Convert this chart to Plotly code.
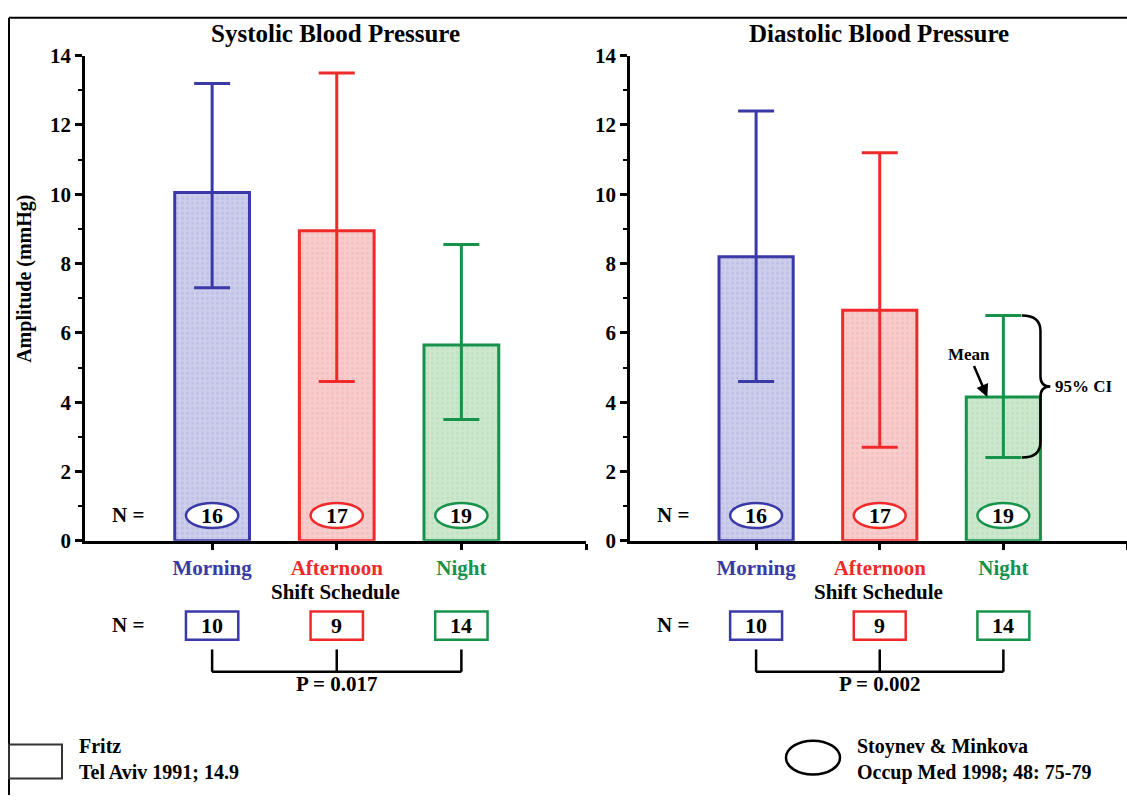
import plotly.graph_objects as go

W, H = 1127, 807

categories = ["Morning", "Afternoon", "Night"]
cat_x = [1, 2, 3]
line_colors = ["#3a3aa6", "#f02a2a", "#16924a"]
fill_colors = ["#cdcdec", "#f8cdcd", "#cde8cf"]
pattern_colors = ["#b4b4e0", "#f0b4b4", "#b2dcb6"]

systolic_mean = [10.05, 8.95, 5.65]
systolic_lo = [7.3, 4.6, 3.5]
systolic_hi = [13.2, 13.5, 8.55]

diastolic_mean = [8.2, 6.65, 4.15]
diastolic_lo = [4.6, 2.7, 2.4]
diastolic_hi = [12.4, 11.2, 6.5]

n_ellipse_sys = [16, 17, 19]
n_ellipse_dia = [16, 17, 19]
n_box_sys = [10, 9, 14]
n_box_dia = [10, 9, 14]
p_values = ["P = 0.017", "P = 0.002"]
titles = ["Systolic Blood Pressure", "Diastolic Blood Pressure"]

FONT = "Liberation Serif"


def px(x):
    return x / W


def py(y):
    return 1 - y / H


fig = go.Figure()

panels = [
    ("x", "y", systolic_mean, systolic_lo, systolic_hi, n_ellipse_sys, n_box_sys),
    ("x2", "y2", diastolic_mean, diastolic_lo, diastolic_hi, n_ellipse_dia, n_box_dia),
]

for xa, ya, mean, lo, hi, ne, nb in panels:
    for i in range(3):
        fig.add_trace(go.Bar(
            x=[cat_x[i]], y=[mean[i]], width=0.6, xaxis=xa, yaxis=ya,
            marker=dict(color=fill_colors[i],
                        line=dict(color=line_colors[i], width=3),
                        pattern=dict(shape=".", fgcolor=pattern_colors[i],
                                     bgcolor=fill_colors[i], size=5, solidity=0.35)),
            error_y=dict(type="data", symmetric=False,
                         array=[hi[i] - mean[i]], arrayminus=[mean[i] - lo[i]],
                         color=line_colors[i], thickness=3, width=18),
            showlegend=False, hoverinfo="skip",
        ))

xdom = [[px(85), px(586)], [px(630), 1.0]]
ydom = [py(545), py(45)]

axis_common_x = dict(range=[-0.02, 4.0], tickvals=[1, 2, 3, 4],
                     ticktext=[f"<span style='color:{c}'>{t}</span>" for c, t in zip(line_colors, categories)] + [""],
                     ticks="outside", ticklen=6, tickwidth=2.5, tickcolor="black",
                     showline=True, linewidth=2.5, linecolor="black",
                     showgrid=False, zeroline=False,
                     tickfont=dict(family=FONT, size=21, weight="bold"))
axis_common_y = dict(range=[0, 14], dtick=2, ticks="outside", ticklen=7, tickwidth=2.5,
                     tickcolor="black", showline=True, linewidth=2.5, linecolor="black",
                     showgrid=False, zeroline=False,
                     tickfont=dict(family=FONT, size=21, color="black", weight="bold"),
                     minor=dict(dtick=1, ticks="outside", ticklen=4, tickwidth=2, tickcolor="black"))

fig.update_layout(
    width=W, height=H, margin=dict(l=0, r=0, t=0, b=0),
    paper_bgcolor="white", plot_bgcolor="white", barmode="overlay",
    xaxis=dict(domain=xdom[0], anchor="y", **axis_common_x),
    yaxis=dict(domain=ydom, anchor="x", **axis_common_y),
    xaxis2=dict(domain=xdom[1], anchor="y2", **axis_common_x),
    yaxis2=dict(domain=ydom, anchor="x2", **axis_common_y),
    font=dict(family=FONT, color="black"),
)

shapes = []
ann = []
bold = dict(family=FONT, color="black", weight="bold")
C = dict(xanchor="center", yanchor="middle", showarrow=False)

for k, (xa, ya, mean, lo, hi, ne, nb) in enumerate(panels):
    cx = (xdom[k][0] + xdom[k][1]) / 2
    ann.append(dict(text=titles[k], x=cx, y=py(22), xref="paper", yref="paper",
                    font=dict(size=25, **bold), **C))
    ann.append(dict(text="Shift Schedule", x=cx, y=py(598), xref="paper", yref="paper",
                    font=dict(size=21, **bold), **C))
    # N = labels
    nx = xdom[k][0] + px(43)
    ann.append(dict(text="N =", x=nx, y=0.73, xref="paper", yref=ya,
                    font=dict(size=21, **bold), **C))
    ann.append(dict(text="N =", x=nx, y=py(632), xref="paper", yref="paper",
                    font=dict(size=21, **bold), **C))
    for i in range(3):
        # ellipse
        shapes.append(dict(type="circle", xref=xa, yref=ya,
                           x0=cat_x[i] - 0.21, x1=cat_x[i] + 0.21, y0=0.37, y1=1.09,
                           fillcolor="white", line=dict(color=line_colors[i], width=2.5)))
        ann.append(dict(text=str(ne[i]), x=cat_x[i], y=0.73, xref=xa, yref=ya,
                        font=dict(size=22, **bold), **C))
        # box below
        shapes.append(dict(type="rect", xref=xa, yref="paper",
                           x0=cat_x[i] - 0.21, x1=cat_x[i] + 0.21, y0=py(647), y1=py(618),
                           fillcolor="white", line=dict(color=line_colors[i], width=2.5)))
        ann.append(dict(text=str(nb[i]), x=cat_x[i], y=py(632), xref=xa, yref="paper",
                        font=dict(size=22, **bold), **C))
        # bracket verticals
        shapes.append(dict(type="line", xref=xa, yref="paper",
                           x0=cat_x[i], x1=cat_x[i], y0=py(657), y1=py(680),
                           line=dict(color="black", width=2.5)))
    shapes.append(dict(type="line", xref=xa, yref="paper",
                       x0=cat_x[0], x1=cat_x[2], y0=py(680), y1=py(680),
                       line=dict(color="black", width=2.5)))
    ann.append(dict(text=p_values[k], x=cat_x[1], y=py(693), xref=xa, yref="paper",
                    font=dict(size=21, **bold), **C))

# Y axis title
ann.append(dict(text="Amplitude (mmHg)", x=px(25), y=py(275),
                xref="paper", yref="paper", textangle=-90,
                font=dict(size=20, **bold), **C))

# Mean arrow (diastolic night)
ann.append(dict(text="Mean", x=cat_x[2] - 0.13, y=diastolic_mean[2], xref="x2", yref="y2",
                ax=-18, ay=-42, showarrow=True, arrowhead=2, arrowsize=1, arrowwidth=2.5,
                arrowcolor="black", font=dict(size=17, **bold)))

# Curly brace for 95% CI (diastolic night)
t, b = diastolic_hi[2], diastolic_lo[2]
m = (t + b) / 2
xc = cat_x[2]
x0, x1, x2 = xc + 0.15, xc + 0.30, xc + 0.38
path = (f"M {x0},{t} Q {x1},{t} {x1},{t - 0.45} L {x1},{m + 0.3} "
        f"Q {x1},{m} {x2},{m} Q {x1},{m} {x1},{m - 0.3} "
        f"L {x1},{b + 0.45} Q {x1},{b} {x0},{b}")
shapes.append(dict(type="path", xref="x2", yref="y2", path=path,
                   line=dict(color="black", width=2.5)))
ann.append(dict(text="95% CI", x=x2 + 0.02, y=m, xref="x2", yref="y2", xanchor="left",
                yanchor="middle", showarrow=False, font=dict(size=17, **bold)))

# Frame
shapes.append(dict(type="line", xref="paper", yref="paper", x0=px(9), x1=px(9), y0=0, y1=py(6),
                   line=dict(color="black", width=2)))
shapes.append(dict(type="line", xref="paper", yref="paper", x0=px(9), x1=1, y0=py(6), y1=py(6),
                   line=dict(color="black", width=2)))

# Footer legends
shapes.append(dict(type="rect", xref="paper", yref="paper", x0=px(9), x1=px(62),
                   y0=py(790), y1=py(755), line=dict(color="#333333", width=2)))
ann.append(dict(text="Fritz<br>Tel Aviv 1991; 14.9", x=px(77), y=py(770), xref="paper", yref="paper",
                xanchor="left", yanchor="middle", align="left", showarrow=False,
                font=dict(size=20, **bold)))
shapes.append(dict(type="circle", xref="paper", yref="paper", x0=px(786), x1=px(840),
                   y0=py(786), y1=py(751), line=dict(color="black", width=2.5)))
ann.append(dict(text="Stoynev & Minkova<br>Occup Med 1998; 48: 75-79", x=px(855), y=py(770),
                xref="paper", yref="paper", xanchor="left", yanchor="middle", align="left",
                showarrow=False, font=dict(size=20, **bold)))

fig.update_layout(shapes=shapes, annotations=ann)
fig.write_html(
    "out.html",
    post_script="document.body.style.margin='0';document.body.style.padding='0';"
                "document.body.style.overflow='hidden';",
)
